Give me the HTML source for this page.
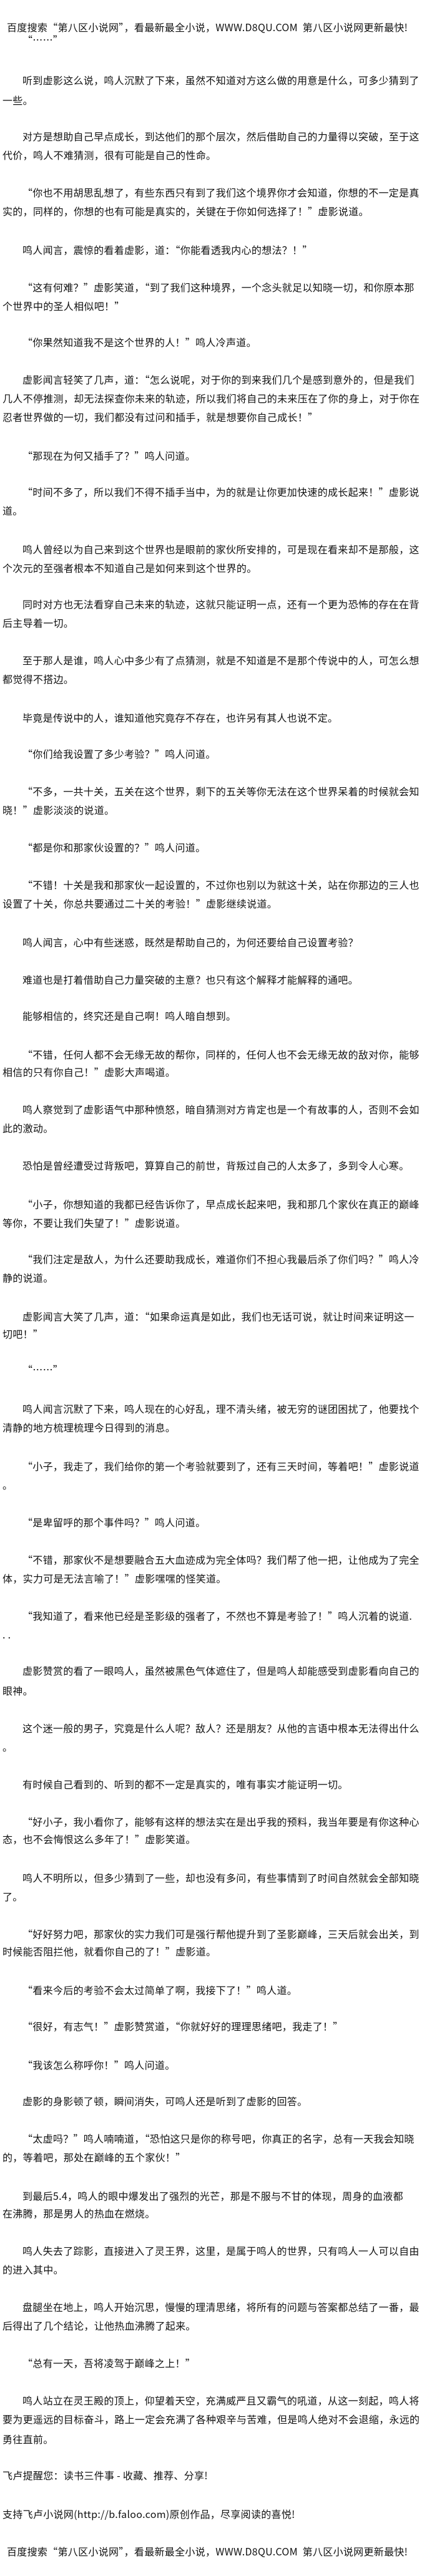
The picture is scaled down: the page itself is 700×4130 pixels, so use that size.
<!DOCTYPE html>
<html><head><meta charset="utf-8">
<style>
html,body{margin:0;padding:0;background:#fff;}
body{width:700px;height:4130px;position:relative;overflow:hidden;
font-family:"Noto Sans CJK SC","WenQuanYi Zen Hei","Liberation Sans",sans-serif;font-size:16px;color:#111;}
p{position:absolute;margin:0;left:4px;white-space:nowrap;line-height:22px;height:22px;letter-spacing:0.3px;}
p.i{left:36px;}
p.h{left:11px;}
</style></head><body>
<p class="h" style="top:32px">百度搜索“第八区小说网”，看最新最全小说，WWW.D8QU.COM&nbsp;&nbsp;第八区小说网更新最快!</p>
<p class="i" style="top:52px">“……”</p>
<p class="i" style="top:117px">听到虚影这么说，鸣人沉默了下来，虽然不知道对方这么做的用意是什么，可多少猜到了</p>
<p style="top:149px">一些。</p>
<p class="i" style="top:207px">对方是想助自己早点成长，到达他们的那个层次，然后借助自己的力量得以突破，至于这</p>
<p style="top:237px">代价，鸣人不难猜测，很有可能是自己的性命。</p>
<p class="i" style="top:297px">“你也不用胡思乱想了，有些东西只有到了我们这个境界你才会知道，你想的不一定是真</p>
<p style="top:327px">实的，同样的，你想的也有可能是真实的，关键在于你如何选择了！”虚影说道。</p>
<p class="i" style="top:389px">鸣人闻言，震惊的看着虚影，道：“你能看透我内心的想法？！”</p>
<p class="i" style="top:449px">“这有何难？”虚影笑道，“到了我们这种境界，一个念头就足以知晓一切，和你原本那</p>
<p style="top:479px">个世界中的圣人相似吧！”</p>
<p class="i" style="top:537px">“你果然知道我不是这个世界的人！”鸣人冷声道。</p>
<p class="i" style="top:597px">虚影闻言轻笑了几声，道：“怎么说呢，对于你的到来我们几个是感到意外的，但是我们</p>
<p style="top:627px">几人不停推测，却无法探查你未来的轨迹，所以我们将自己的未来压在了你的身上，对于你在</p>
<p style="top:657px">忍者世界做的一切，我们都没有过问和插手，就是想要你自己成长！”</p>
<p class="i" style="top:719px">“那现在为何又插手了？”鸣人问道。</p>
<p class="i" style="top:777px">“时间不多了，所以我们不得不插手当中，为的就是让你更加快速的成长起来！”虚影说</p>
<p style="top:807px">道。</p>
<p class="i" style="top:869px">鸣人曾经以为自己来到这个世界也是眼前的家伙所安排的，可是现在看来却不是那般，这</p>
<p style="top:899px">个次元的至强者根本不知道自己是如何来到这个世界的。</p>
<p class="i" style="top:957px">同时对方也无法看穿自己未来的轨迹，这就只能证明一点，还有一个更为恐怖的存在在背</p>
<p style="top:987px">后主导着一切。</p>
<p class="i" style="top:1047px">至于那人是谁，鸣人心中多少有了点猜测，就是不知道是不是那个传说中的人，可怎么想</p>
<p style="top:1077px">都觉得不搭边。</p>
<p class="i" style="top:1139px">毕竟是传说中的人，谁知道他究竟存不存在，也许另有其人也说不定。</p>
<p class="i" style="top:1197px">“你们给我设置了多少考验？”鸣人问道。</p>
<p class="i" style="top:1257px">“不多，一共十关，五关在这个世界，剩下的五关等你无法在这个世界呆着的时候就会知</p>
<p style="top:1287px">晓！”虚影淡淡的说道。</p>
<p class="i" style="top:1347px">“都是你和那家伙设置的？”鸣人问道。</p>
<p class="i" style="top:1407px">“不错！十关是我和那家伙一起设置的，不过你也别以为就这十关，站在你那边的三人也</p>
<p style="top:1437px">设置了十关，你总共要通过二十关的考验！”虚影继续说道。</p>
<p class="i" style="top:1499px">鸣人闻言，心中有些迷惑，既然是帮助自己的，为何还要给自己设置考验？</p>
<p class="i" style="top:1559px">难道也是打着借助自己力量突破的主意？也只有这个解释才能解释的通吧。</p>
<p class="i" style="top:1617px">能够相信的，终究还是自己啊！鸣人暗自想到。</p>
<p class="i" style="top:1679px">“不错，任何人都不会无缘无故的帮你，同样的，任何人也不会无缘无故的敌对你，能够</p>
<p style="top:1707px">相信的只有你自己！”虚影大声喝道。</p>
<p class="i" style="top:1767px">鸣人察觉到了虚影语气中那种愤怒，暗自猜测对方肯定也是一个有故事的人，否则不会如</p>
<p style="top:1797px">此的激动。</p>
<p class="i" style="top:1857px">恐怕是曾经遭受过背叛吧，算算自己的前世，背叛过自己的人太多了，多到令人心寒。</p>
<p class="i" style="top:1919px">“小子，你想知道的我都已经告诉你了，早点成长起来吧，我和那几个家伙在真正的巅峰</p>
<p style="top:1949px">等你，不要让我们失望了！”虚影说道。</p>
<p class="i" style="top:2007px">“我们注定是敌人，为什么还要助我成长，难道你们不担心我最后杀了你们吗？”鸣人冷</p>
<p style="top:2037px">静的说道。</p>
<p class="i" style="top:2099px">虚影闻言大笑了几声，道：“如果命运真是如此，我们也无话可说，就让时间来证明这一</p>
<p style="top:2127px">切吧！”</p>
<p class="i" style="top:2184px">“……”</p>
<p class="i" style="top:2247px">鸣人闻言沉默了下来，鸣人现在的心好乱，理不清头绪，被无穷的谜团困扰了，他要找个</p>
<p style="top:2277px">清静的地方梳理梳理今日得到的消息。</p>
<p class="i" style="top:2339px">“小子，我走了，我们给你的第一个考验就要到了，还有三天时间，等着吧！”虚影说道</p>
<p style="top:2369px">。</p>
<p class="i" style="top:2429px">“是卑留呼的那个事件吗？”鸣人问道。</p>
<p class="i" style="top:2489px">“不错，那家伙不是想要融合五大血迹成为完全体吗？我们帮了他一把，让他成为了完全</p>
<p style="top:2519px">体，实力可是无法言喻了！”虚影嘿嘿的怪笑道。</p>
<p class="i" style="top:2579px">“我知道了，看来他已经是圣影级的强者了，不然也不算是考验了！”鸣人沉着的说道.</p>
<p style="top:2609px">. .</p>
<p class="i" style="top:2667px">虚影赞赏的看了一眼鸣人，虽然被黑色气体遮住了，但是鸣人却能感受到虚影看向自己的</p>
<p style="top:2699px">眼神。</p>
<p class="i" style="top:2759px">这个迷一般的男子，究竟是什么人呢？敌人？还是朋友？从他的言语中根本无法得出什么</p>
<p style="top:2789px">。</p>
<p class="i" style="top:2849px">有时候自己看到的、听到的都不一定是真实的，唯有事实才能证明一切。</p>
<p class="i" style="top:2909px">“好小子，我小看你了，能够有这样的想法实在是出乎我的预料，我当年要是有你这种心</p>
<p style="top:2937px">态，也不会悔恨这么多年了！”虚影笑道。</p>
<p class="i" style="top:2999px">鸣人不明所以，但多少猜到了一些，却也没有多问，有些事情到了时间自然就会全部知晓</p>
<p style="top:3029px">了。</p>
<p class="i" style="top:3089px">“好好努力吧，那家伙的实力我们可是强行帮他提升到了圣影巅峰，三天后就会出关，到</p>
<p style="top:3117px">时候能否阻拦他，就看你自己的了！”虚影道。</p>
<p class="i" style="top:3179px">“看来今后的考验不会太过简单了啊，我接下了！”鸣人道。</p>
<p class="i" style="top:3237px">“很好，有志气！”虚影赞赏道，“你就好好的理理思绪吧，我走了！”</p>
<p class="i" style="top:3299px">“我该怎么称呼你！”鸣人问道。</p>
<p class="i" style="top:3357px">虚影的身影顿了顿，瞬间消失，可鸣人还是听到了虚影的回答。</p>
<p class="i" style="top:3417px">“太虚吗？”鸣人喃喃道，“恐怕这只是你的称号吧，你真正的名字，总有一天我会知晓</p>
<p style="top:3447px">的，等着吧，那处在巅峰的五个家伙！”</p>
<p class="i" style="top:3509px">到最后5.4，鸣人的眼中爆发出了强烈的光芒，那是不服与不甘的体现，周身的血液都</p>
<p style="top:3537px">在沸腾，那是男人的热血在燃烧。</p>
<p class="i" style="top:3597px">鸣人失去了踪影，直接进入了灵王界，这里，是属于鸣人的世界，只有鸣人一人可以自由</p>
<p style="top:3627px">的进入其中。</p>
<p class="i" style="top:3687px">盘腿坐在地上，鸣人开始沉思，慢慢的理清思绪，将所有的问题与答案都总结了一番，最</p>
<p style="top:3717px">后得出了几个结论，让他热血沸腾了起来。</p>
<p class="i" style="top:3777px">“总有一天，吾将凌驾于巅峰之上！”</p>
<p class="i" style="top:3837px">鸣人站立在灵王殿的顶上，仰望着天空，充满威严且又霸气的吼道，从这一刻起，鸣人将</p>
<p style="top:3867px">要为更遥远的目标奋斗，路上一定会充满了各种艰辛与苦难，但是鸣人绝对不会退缩，永远的</p>
<p style="top:3899px">勇往直前。</p>
<p style="top:3957px">飞卢提醒您：读书三件事 - 收藏、推荐、分享!</p>
<p style="top:4019px">支持飞卢小说网(http://b.faloo.com)原创作品，尽享阅读的喜悦!</p>
<p class="h" style="top:4079px">百度搜索“第八区小说网”，看最新最全小说，WWW.D8QU.COM&nbsp;&nbsp;第八区小说网更新最快!</p>
</body></html>
